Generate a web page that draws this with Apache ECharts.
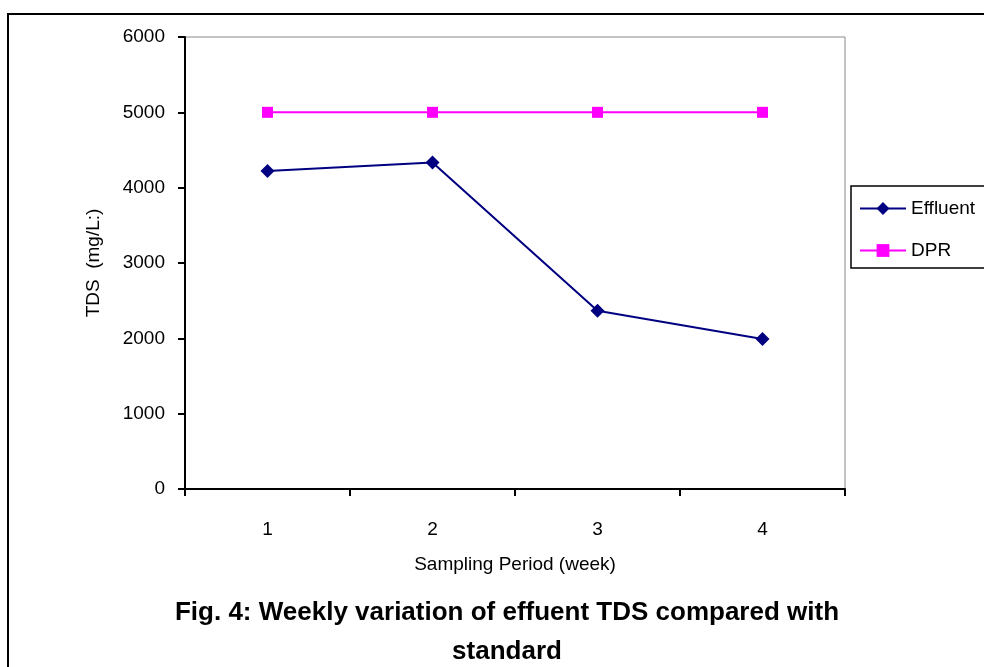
<!DOCTYPE html>
<html>
<head>
<meta charset="utf-8">
<script src="https://cdn.jsdelivr.net/npm/echarts@6/dist/echarts.min.js"></script>
<style>
  html, body { margin: 0; padding: 0; background: #fff; }
  #chart { width: 984px; height: 667px; }
</style>
</head>
<body>
<div id="chart"></div>
<script>
var weeks = ['1', '2', '3', '4'];
var effluent = [4220, 4335, 2365, 1990];
var dpr = [5000, 5000, 5000, 5000];
var yTicks = { min: 0, max: 6000, interval: 1000 };

var font = 'Liberation Sans, Arial, sans-serif';

var option = {
    backgroundColor: '#fff',
    animation: false,
    title: {
        text: 'Fig. 4: Weekly variation of effuent TDS compared with\nstandard',
        left: 502,
        textAlign: 'center',
        top: 588,
        textStyle: {
            fontFamily: font,
            fontWeight: 'bold',
            fontSize: 26,
            lineHeight: 39,
            color: '#000'
        }
    },
    legend: {
        orient: 'vertical',
        left: 851,
        top: 186,
        data: ['Effluent', 'DPR'],
        itemWidth: 46,
        itemHeight: 16,
        itemGap: 23,
        padding: [13, 40, 8, 8],
        borderColor: '#000',
        borderWidth: 1.5,
        textStyle: { fontFamily: font, fontSize: 19, color: '#000' }
    },
    grid: {
        left: 185,
        top: 37,
        width: 660,
        height: 452,
        show: true,
        borderColor: '#888',
        borderWidth: 1
    },
    xAxis: {
        type: 'category',
        data: weeks,
        boundaryGap: true,
        name: 'Sampling Period (week)',
        nameLocation: 'middle',
        nameGap: 66,
        nameTextStyle: { fontFamily: font, fontSize: 19, color: '#000' },
        axisLine: { lineStyle: { color: '#000', width: 2 } },
        axisTick: { show: true, alignWithLabel: false, length: 7, lineStyle: { color: '#000', width: 2 } },
        axisLabel: { fontFamily: font, fontSize: 19, color: '#000', margin: 31 }
    },
    yAxis: {
        type: 'value',
        min: yTicks.min,
        max: yTicks.max,
        interval: yTicks.interval,
        name: 'TDS  (mg/L:)',
        nameLocation: 'middle',
        nameGap: 82,
        nameTextStyle: { fontFamily: font, fontSize: 19, color: '#000' },
        axisLine: { show: true, lineStyle: { color: '#000', width: 2 } },
        axisTick: { show: true, length: 7, lineStyle: { color: '#000', width: 2 } },
        axisLabel: {
            fontFamily: font, fontSize: 19, color: '#000', margin: 20,
            formatter: function (v) { return String(v); }
        },
        splitLine: { show: false }
    },
    graphic: [
        {
            type: 'rect',
            shape: { x: 8, y: 14, width: 1000, height: 700 },
            style: { fill: 'none', stroke: '#000', lineWidth: 2 },
            silent: true,
            z: -10
        }
    ],
    series: [
        {
            name: 'Effluent',
            type: 'line',
            data: effluent,
            symbol: 'diamond',
            symbolSize: 14,
            itemStyle: { color: '#000080' },
            lineStyle: { color: '#000080', width: 2 }
        },
        {
            name: 'DPR',
            type: 'line',
            data: dpr,
            symbol: 'rect',
            symbolSize: 11,
            itemStyle: { color: '#ff00ff' },
            lineStyle: { color: '#ff00ff', width: 2 }
        }
    ]
};

var myChart = echarts.init(document.getElementById('chart'));
myChart.setOption(option);
</script>
</body>
</html>
